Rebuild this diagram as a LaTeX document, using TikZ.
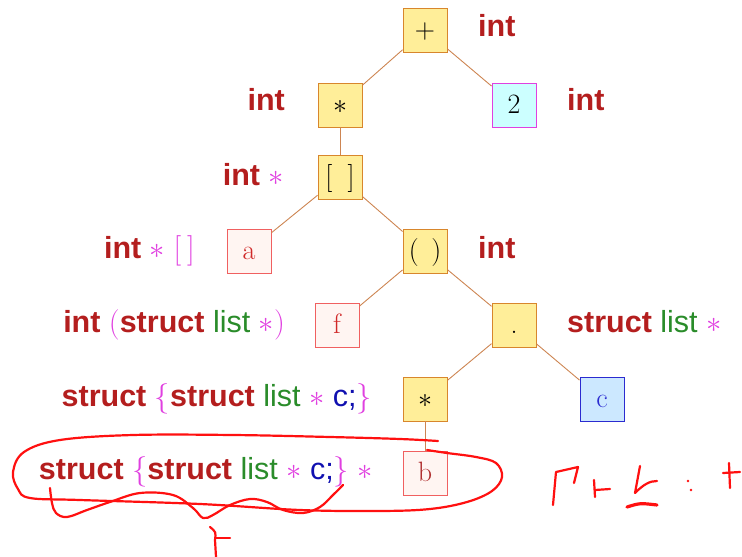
\RequirePackage{fix-cm}
\documentclass[tikz,border=0pt]{standalone}
\usepackage{fontspec}
\newfontfamily\labfont{Liberation Sans}
\definecolor{kwred}{HTML}{B41E1E}
\definecolor{idgreen}{HTML}{2A8C2A}
\definecolor{pinkm}{HTML}{E040E0}
\definecolor{cblue}{HTML}{1010B0}
\definecolor{oporange}{HTML}{D8862C}
\definecolor{opyellow}{HTML}{FFEE99}
\definecolor{edgecol}{HTML}{CD8552}
\definecolor{idred}{HTML}{F06060}
\definecolor{idpink}{HTML}{FFF5F2}
\definecolor{atext}{HTML}{D02828}
\definecolor{btext}{HTML}{B03030}
\definecolor{cmag}{HTML}{E040E0}
\definecolor{ccyan}{HTML}{CCFFFF}
\definecolor{cbord}{HTML}{2B2BD0}
\definecolor{cfill}{HTML}{CCE8FF}
\definecolor{handred}{HTML}{FF1010}
\newcommand\tkw[1]{{\bfseries\color{kwred}#1}}
\newcommand\tid[1]{{\color{idgreen}#1}}
\newcommand\tst{{\color{pinkm}$\ast$}}
\newcommand\tsy[1]{{\color{pinkm}\rmfamily\mdseries #1}}
\newcommand\tcc[1]{{\color{cblue}#1}}
\begin{document}
\begin{tikzpicture}[x=1pt,y=-1pt,
  box/.style={draw, minimum size=44pt, inner sep=0pt, text height=20pt, text depth=4pt, line width=0.9pt, font=\fontsize{28}{28}\selectfont},
  opbox/.style={box, draw=oporange, fill=opyellow},
  idbox/.style={box, draw=idred, fill=idpink},
  edge/.style={draw=edgecol, line width=0.9pt},
  lab/.style={inner sep=0pt, font=\labfont\fontsize{30.5}{30.5}\selectfont},
  hand/.style={draw=handred, line width=2.2pt, line cap=round, line join=round}]
\useasboundingbox (0,0) rectangle (742,557);
% tree nodes
\node[opbox] (plus) at (425,30) {$+$};
\node[opbox] (mul) at (340,105) {$\ast$};
\node[box, draw=cmag, fill=ccyan] (two) at (514,105) {2};
\node[opbox] (idx) at (340,177) {[\hspace{0.55em}]};
\node[idbox, text=atext] (a) at (249,251) {a};
\node[opbox] (call) at (425,251) {(\hspace{0.45em})};
\node[idbox, text=atext] (f) at (337,325) {f};
\node[opbox] (dot) at (514,325) {.};
\node[opbox] (deref) at (425,399) {$\ast$};
\node[box, draw=cbord, fill=cfill, text=cbord] (c) at (602,399) {c};
\node[idbox, text=btext] (b) at (425,473) {b};
% edges
\draw[edge] (plus) -- (mul);
\draw[edge] (plus) -- (two);
\draw[edge] (mul) -- (idx);
\draw[edge] (idx) -- (a);
\draw[edge] (idx) -- (call);
\draw[edge] (call) -- (f);
\draw[edge] (call) -- (dot);
\draw[edge] (dot) -- (deref);
\draw[edge] (dot) -- (c);
\draw[edge] (deref) -- (b);
% type labels
\node[lab, anchor=base west] (lplus) at (478,36) {\tkw{int}};
\node[lab, anchor=base east] (lmul) at (285,110) {\tkw{int}};
\node[lab, anchor=base west] (ltwo) at (567,110) {\tkw{int}};
\node[lab, anchor=base east] (lidx) at (284,185) {\tkw{int} \tst};
\node[lab, anchor=base east] (la) at (195,258) {\tkw{int} \tst\ \tsy{[\hspace{6pt}]}};
\node[lab, anchor=base west] (lcall) at (478,258) {\tkw{int}};
\node[lab, anchor=base east] (lf) at (285,332) {\tkw{int} \tsy{(}\tkw{struct} \tid{list} \tst\tsy{)}};
\node[lab, anchor=base west] (ldot) at (567,332) {\tkw{struct} \tid{list} \tst};
\node[lab, anchor=base east] (lderef) at (372,406) {\tkw{struct} \tsy{$\{$}\tkw{struct} \tid{list} \tst\ \tcc{c;}\tsy{$\}$}};
\node[lab, anchor=base east] (lb) at (373,479) {\tkw{struct} \tsy{$\{$}\tkw{struct} \tid{list} \tst\ \tcc{c;}\tsy{$\}$} \tst};
% handwritten annotations
\draw[hand] plot[smooth, tension=0.6] coordinates {(438,441) (400,439) (330,437) (233,435) (133,435) (60,440) (24,452) (13,472) (18,489) (30,498) (80,500) (200,504) (300,510) (380,511) (430,509) (467,502) (492,491) (502,477) (496,463) (476,457) (447,453) (427,450)};
\draw[hand] plot[smooth, tension=0.6] coordinates {(50,488) (52,503) (56,513) (67,517) (87,510) (110,502) (140,493) (173,495) (193,508) (203,518) (213,515) (230,505) (250,499) (267,502) (283,510) (303,513) (320,507) (333,495) (343,485)};
\draw[hand] (210,527) .. controls (216,532) .. (215,540) -- (216,557);
\draw[hand] (216,538) -- (230,538);
% Gamma |- b : tau
\draw[hand] (553,505) -- (556,472) -- (578,467) -- (574,483);
\draw[hand] (594,480) -- (595,497);
\draw[hand] (595,490) -- (610,489);
\draw[hand] (640,466) -- (635,493) .. controls (644,484) and (650,481) .. (657,481);
\draw[hand, line width=3.2pt] (627,507) .. controls (640,503) .. (657,505);
\fill[handred] (688,481) circle (1.4pt) (691,490) circle (1.4pt);
\draw[hand] (729,463) -- (730,488);
\draw[hand] (723,473) -- (740,472);
\end{tikzpicture}
\end{document}
